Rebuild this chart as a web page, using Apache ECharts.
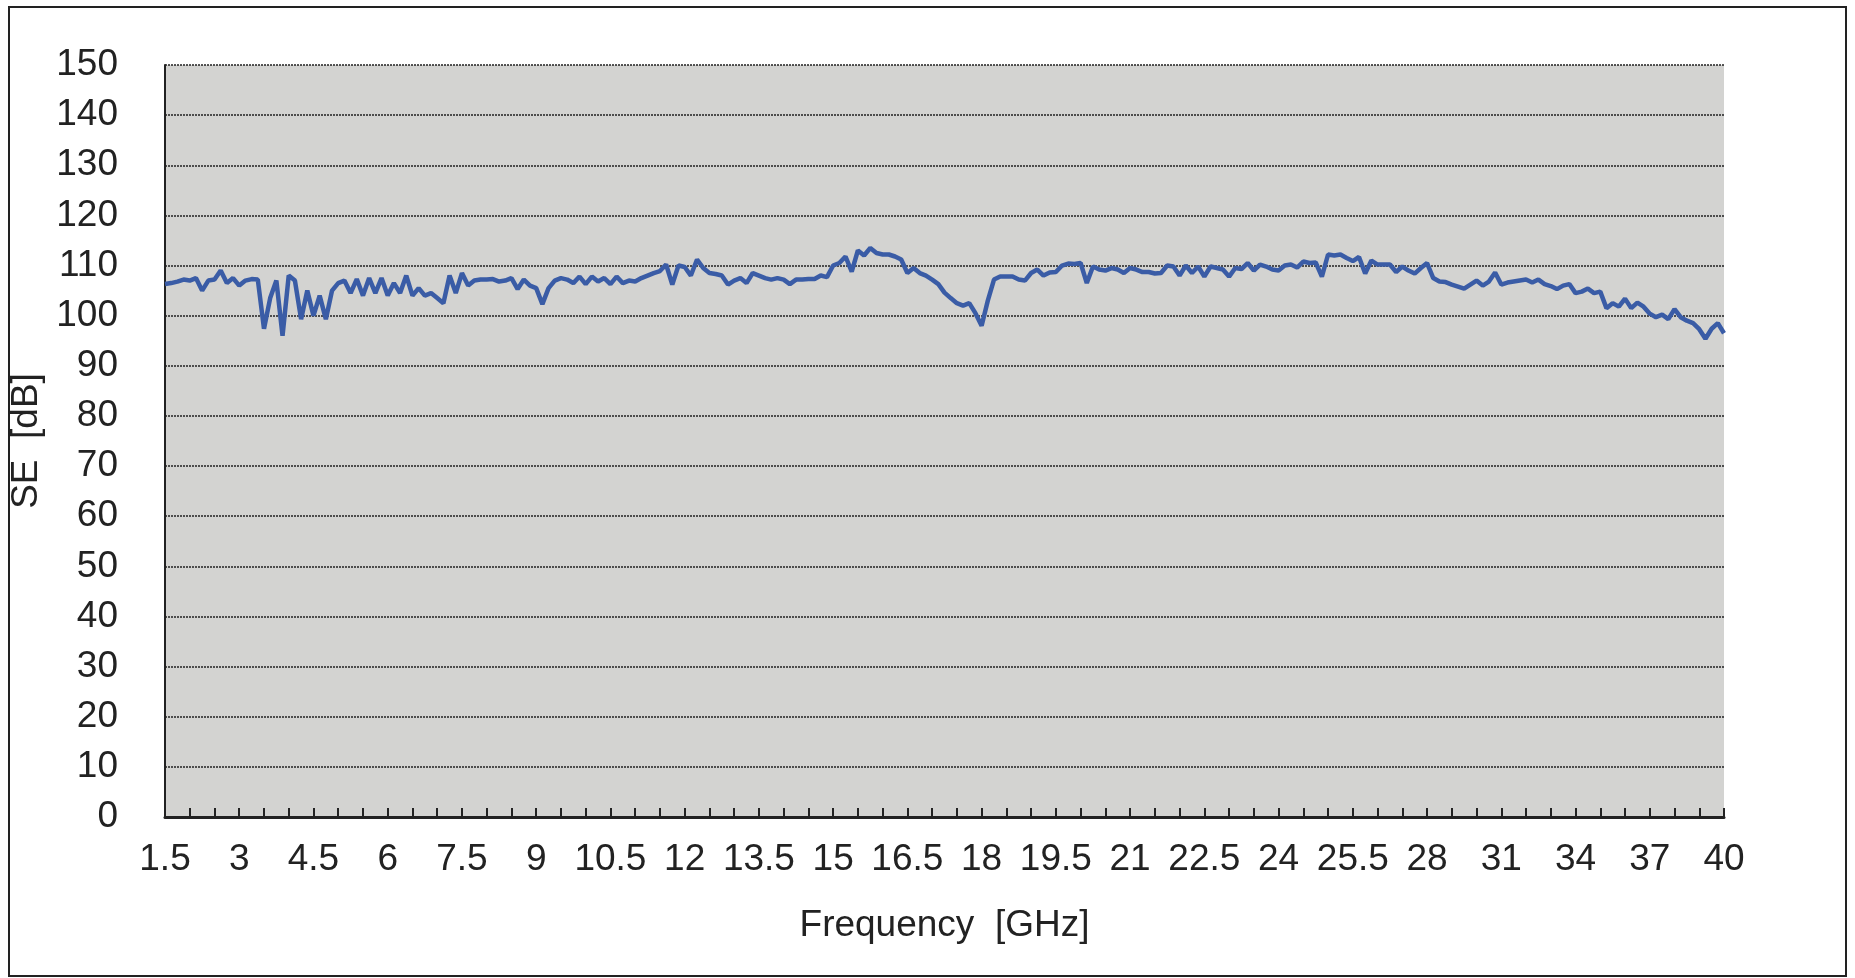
<!DOCTYPE html>
<html>
<head>
<meta charset="utf-8">
<script src="https://cdn.jsdelivr.net/npm/echarts@6/dist/echarts.min.js"></script>
<style>
  html, body { margin:0; padding:0; background:#fff; }
  #chart { width:1855px; height:978px; }
</style>
</head>
<body>
<div id="chart"></div>
<script>
// tick labels on the frequency axis (Excel-style category axis)
var tickLabels = ['1.5','3','4.5','6','7.5','9','10.5','12','13.5','15','16.5','18',
  '19.5','21','22.5','24','25.5','28','31','34','37','40'];

// SE [dB], sampled along the axis (253 points, 12 per labelled step)
var seValues = [
  106.3,106.5,106.8,107.2,107,107.5,105,107,107.2,109,106.5,107.5,106,107,107.3,107.2,
  97.4,103.5,107,96,108,107,99.3,105,100,104,99.3,105,106.5,107,
  104.5,107.3,104,107.5,104.5,107.5,104,106.5,104.5,108,104,105.5,104,104.5,103.5,102.5,
  108,104.5,108.5,106,107,107.2,107.2,107.3,106.8,107,107.5,105.3,107.2,106,105.5,102.3,
  105.5,107,107.5,
  107.2,106.5,107.8,106.3,107.8,106.8,107.5,106.3,107.8,106.5,107,106.8,107.5,108,108.5,
  108.9,110.2,106.2,110,109.7,108,111.2,109.5,108.5,108.3,108,106.2,107,107.5,106.5,108.5,
  108,107.5,107.2,107.5,107.2,106.3,107.2,107.2,107.3,107.3,108,107.7,110,110.5,111.8,
  108.8,113,112,113.5,112.5,112.2,112.2,111.8,111.2,108.5,109.5,108.5,108,107.2,106.3,
  104.6,103.5,102.5,102,
  102.5,100.5,98,103,107.2,107.8,107.8,107.8,107.2,107,108.5,109.2,108,108.6,108.7,110,
  110.4,110.3,110.5,106.5,109.8,109.2,109,109.5,109.2,108.5,109.5,109.2,108.7,108.7,108.4,
  108.5,110,109.8,108,110,108.5,109.8,107.8,109.8,109.5,109.2,107.8,109.5,109.3,110.5,109,
  110.2,109.8,109.2,109,110,110.2,109.6,110.8,110.5,110.6,107.8,112.2,112,112.2,111.5,
  110.9,111.7,
  108.4,111,110.2,110.2,110.2,108.7,109.8,109,108.4,109.5,110.5,107.5,106.8,106.7,106.2,
  105.8,105.4,106.2,107,106,106.8,108.6,106.2,106.6,106.8,107,107.2,106.6,107.2,106.3,
  105.9,105.3,106,106.3,104.5,104.8,105.4,104.5,104.8,101.5,102.5,101.8,103.4,101.5,102.6,
  101.8,100.4,99.7,100.2,99.3,101.3,99.7,99,98.5,97.3,95.4,97.4,98.5,96.5
];

var categories = seValues.map(function (v, i) { return i; });

var chart = echarts.init(document.getElementById('chart'));
var font = "'Liberation Sans Narrow', 'Liberation Sans', Arial, sans-serif";

chart.setOption({
  animation: false,
  backgroundColor: '#ffffff',
  graphic: [{
    type: 'rect',
    shape: { x: 9, y: 7, width: 1837, height: 969 },
    style: { fill: 'none', stroke: '#222', lineWidth: 2 }
  }],
  grid: { left: 162, right: 131, top: 65, bottom: 161, backgroundColor: '#d3d3d1', show: true, borderWidth: 0 },
  xAxis: {
    type: 'category',
    data: categories,
    boundaryGap: false,
    name: 'Frequency  [GHz]',
    nameLocation: 'middle',
    nameGap: 90,
    nameTextStyle: { fontFamily: font, fontSize: 37, color: '#222' },
    axisLine: { lineStyle: { color: '#222', width: 3 } },
    axisTick: { interval: 3, inside: true, length: 9, lineStyle: { color: '#222', width: 2 } },
    axisLabel: {
      interval: 11,
      margin: 24,
      fontFamily: font, fontSize: 37, color: '#222',
      formatter: function (v, i) { return tickLabels[i / 12]; }
    },
    splitLine: { show: false }
  },
  yAxis: {
    type: 'value',
    min: 0, max: 150, interval: 10,
    name: 'SE  [dB]',
    nameLocation: 'middle',
    nameGap: 120,
    nameMoveOverlap: false,
    nameRotate: 90,
    nameTextStyle: { fontFamily: font, fontSize: 37, color: '#222' },
    axisLine: { show: true, lineStyle: { color: '#222', width: 2 } },
    axisTick: { show: false },
    axisLabel: { margin: 47, fontFamily: font, fontSize: 37, color: '#222' },
    splitLine: { lineStyle: { color: '#222', width: 1.5, type: [2, 1] } }
  },
  series: [{
    type: 'line',
    data: seValues,
    showSymbol: false,
    lineStyle: { color: '#3a5ca6', width: 4.5 }
  }]
});
</script>
</body>
</html>
